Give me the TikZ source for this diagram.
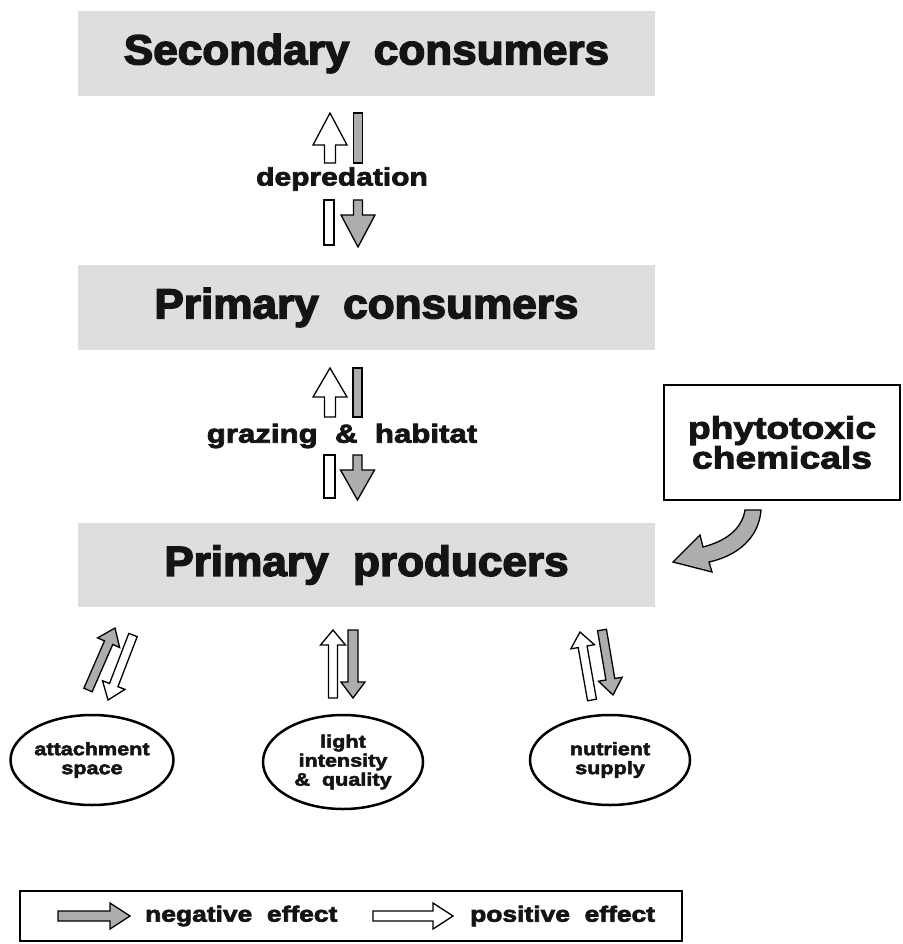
\documentclass[tikz,border=0pt]{standalone}
\usepackage{fontspec}
\setmainfont{Liberation Sans}[FakeStretch=1.2, BoldFeatures={FakeBold=3}]
\newfontfamily\titlefont{Liberation Sans}[FakeStretch=1.05, BoldFeatures={FakeBold=3.5}]
\usetikzlibrary{calc,shapes.geometric}
\definecolor{boxgray}{gray}{0.87}
\definecolor{arrgray}{gray}{0.68}
\definecolor{inkblack}{gray}{0.08}
\tikzset{
  arrowline/.style={draw=black, line width=1.3pt, line join=miter},
  titlebox/.style={fill=boxgray, draw=none, minimum width=577pt, minimum height=85pt, inner sep=0pt,
    text=inkblack, font=\titlefont\fontsize{42}{44}\selectfont\bfseries},
  midlabel/.style={font=\fontsize{25}{28}\selectfont\bfseries, inner sep=1pt, text=inkblack},
  factor/.style={ellipse, draw=black, line width=2.5pt, minimum width=160pt, minimum height=90pt,
    inner sep=0pt, align=center, text=inkblack, font=\fontsize{18}{19}\selectfont\bfseries},
  legendtext/.style={font=\fontsize{22}{24}\selectfont\bfseries, anchor=west, inner sep=0pt, text=inkblack},
}
% block arrow: start, end, fill, shaft half width, head length, head half width
\newcommand{\blockarr}[6]{%
  \coordinate (ba-s) at (#1); \coordinate (ba-e) at (#2);
  \coordinate (ba-h) at ($(ba-e)!#5!(ba-s)$);
  \draw[arrowline, fill=#3] ($(ba-s)!#4!90:(ba-e)$) -- ($(ba-h)!#4!-90:(ba-s)$)
    -- ($(ba-h)!#6!-90:(ba-s)$) -- (ba-e) -- ($(ba-h)!#6!90:(ba-s)$)
    -- ($(ba-h)!#4!90:(ba-s)$) -- ($(ba-s)!#4!-90:(ba-e)$) -- cycle;}
% bar (shaft piece): start, end, fill, half width
\newcommand{\blockbar}[4]{%
  \draw[arrowline, fill=#3] ($(#1)!#4!90:(#2)$) -- ($(#2)!#4!-90:(#1)$)
    -- ($(#2)!#4!90:(#1)$) -- ($(#1)!#4!-90:(#2)$) -- cycle;}
\begin{document}
\begin{tikzpicture}[x=1pt, y=-1pt]
\useasboundingbox (0,0) rectangle (902,944);
\fill[white] (0,0) rectangle (902,944);

% level boxes
\node[titlebox] (sec) at (366.5,53.5) {Secondary~~consumers};
\node[titlebox] (pcon) at (366.5,307.5) {Primary~~consumers};
\node[titlebox, minimum height=84pt] (prod) at (366.5,565) {Primary~~producers};

% labels between levels
\node[midlabel] (dep) at (342,179) {depredation};
\node[midlabel, font=\fontsize{26}{28}\selectfont\bfseries] (graz) at (342,436) {grazing~~\&~~habitat};

% depredation arrows (broken by label)
\coordinate (d1s) at (330,163); \coordinate (d1e) at (330,113);
\blockarr{d1s}{d1e}{white}{5.5pt}{32pt}{17pt}
\coordinate (d2s) at (329,200); \coordinate (d2e) at (329,245);
\blockbar{d2s}{d2e}{white}{5pt}
\coordinate (d3s) at (358,113); \coordinate (d3e) at (358,163);
\blockbar{d3s}{d3e}{arrgray}{4.5pt}
\coordinate (d4s) at (358,200); \coordinate (d4e) at (358,247);
\blockarr{d4s}{d4e}{arrgray}{4.5pt}{32pt}{17pt}

% grazing arrows (broken by label)
\coordinate (g1s) at (330,417); \coordinate (g1e) at (330,368);
\blockarr{g1s}{g1e}{white}{5.5pt}{29pt}{17pt}
\coordinate (g2s) at (329.5,455); \coordinate (g2e) at (329.5,498);
\blockbar{g2s}{g2e}{white}{5.5pt}
\coordinate (g3s) at (357.5,368); \coordinate (g3e) at (357.5,417);
\blockbar{g3s}{g3e}{arrgray}{4.5pt}
\coordinate (g4s) at (357.5,455); \coordinate (g4e) at (357.5,500);
\blockarr{g4s}{g4e}{arrgray}{4.5pt}{30pt}{17pt}

% phytotoxic chemicals
\node[draw=black, line width=2.5pt, fill=white, minimum width=236pt, minimum height=115pt,
  inner sep=0pt, align=center, text=inkblack, font=\fontsize{31}{27}\selectfont\bfseries] (phyto) at (782,442.5)
  {phytotoxic\\chemicals};
\draw[arrowline, fill=arrgray] (745,510) -- (761,510)
  .. controls (759,538) and (737,556) .. (709,562) -- (712,572) -- (673,562)
  -- (700,535) -- (703,547) .. controls (726,541) and (742,529) .. (745,510) -- cycle;

% factors
\node[factor] (att) at (92,760) {attachment\\space};
\node[factor, minimum height=94pt] (light) at (343,762) {light\\intensity\\\&~~quality};
\node[factor] (nut) at (610,760) {nutrient\\supply};

% arrows producers <-> factors
\coordinate (a1s) at (88,690); \coordinate (a1e) at (115,628);
\blockarr{a1s}{a1e}{arrgray}{4.5pt}{16pt}{12pt}
\coordinate (a2s) at (133,635); \coordinate (a2e) at (108,700);
\blockarr{a2s}{a2e}{white}{4.5pt}{16pt}{12pt}
\coordinate (l1s) at (333,698); \coordinate (l1e) at (333,630);
\blockarr{l1s}{l1e}{white}{4.5pt}{15pt}{12.5pt}
\coordinate (l2s) at (353,630); \coordinate (l2e) at (353,698);
\blockarr{l2s}{l2e}{arrgray}{5pt}{16pt}{12pt}
\coordinate (n1s) at (592,700); \coordinate (n1e) at (580,632);
\blockarr{n1s}{n1e}{white}{4.5pt}{15pt}{12pt}
\coordinate (n2s) at (602,630); \coordinate (n2e) at (613,695);
\blockarr{n2s}{n2e}{arrgray}{4.5pt}{16pt}{12pt}

% legend
\node[draw=black, line width=2pt, minimum width=662pt, minimum height=50pt, inner sep=0pt]
  (legend) at (351,916) {};
\coordinate (lg1s) at (58,916); \coordinate (lg1e) at (130,916);
\blockarr{lg1s}{lg1e}{arrgray}{5pt}{20pt}{13pt}
\node[legendtext] (negt) at (145,916) {negative~~effect};
\coordinate (lg2s) at (373,916); \coordinate (lg2e) at (453,916);
\blockarr{lg2s}{lg2e}{white}{5pt}{20pt}{13pt}
\node[legendtext] (post) at (470,916) {positive~~effect};
\end{tikzpicture}
\end{document}
